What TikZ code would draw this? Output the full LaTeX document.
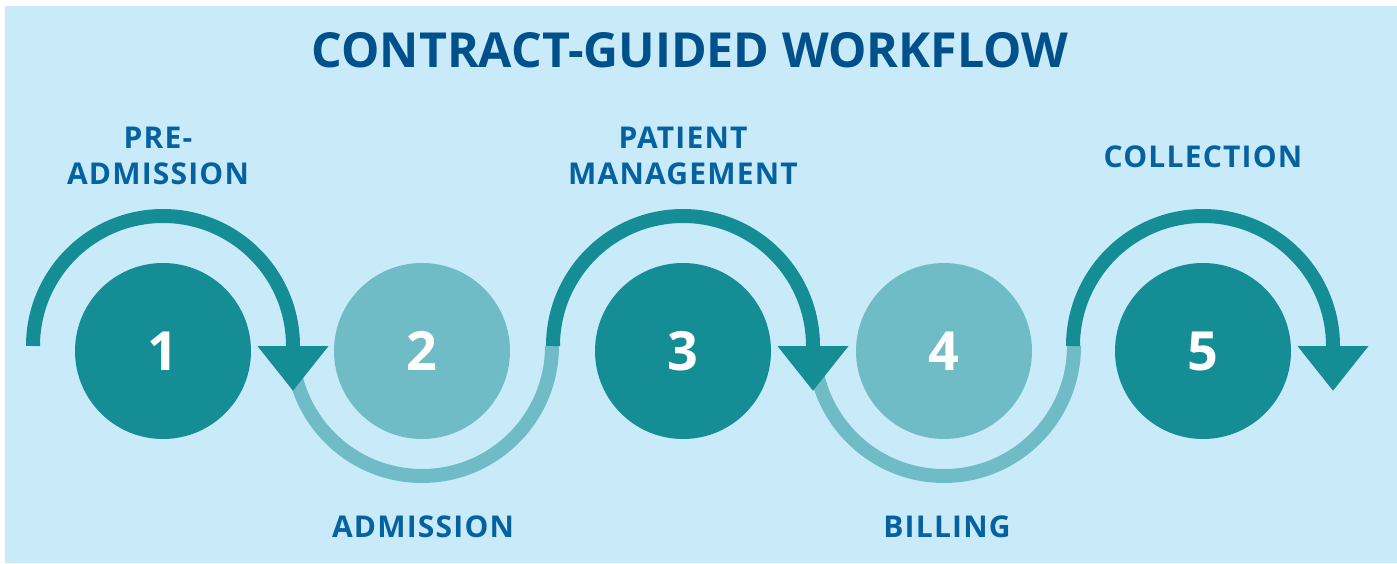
\documentclass[tikz,border=0pt]{standalone}
\usepackage{fontspec}
\setmainfont{Open Sans}
\newfontfamily\labelfont[LetterSpace=4]{Open Sans}
\usetikzlibrary{arrows.meta,calc}
\definecolor{bgblue}{HTML}{C9EAF9}
\definecolor{darkteal}{HTML}{148D94}
\definecolor{lightteal}{HTML}{6FBCC7}
\definecolor{titleblue}{HTML}{00508C}
\definecolor{labelblue}{HTML}{0462A1}

\begin{document}
\begin{tikzpicture}[x=1pt, y=1pt,
  stage/.style={circle, minimum size=176pt, inner sep=0pt, text=white, font=\fontsize{54}{54}\selectfont\bfseries},
  upperarc/.style={darkteal, line width=14pt, -{Triangle[length=45pt, width=68pt]}},
  lowerarc/.style={lightteal, line width=14pt},
  stagelabel/.style={labelblue, font=\labelfont\fontsize{30}{36}\selectfont\bfseries, align=center, inner sep=0pt}]
% Background and the size of the picture
\useasboundingbox (0,0) rectangle (1397,563);
\fill[bgblue] (5,0) rectangle (1397,557);
% Title
\node[titleblue, font=\fontsize{48.3}{49}\selectfont\bfseries, anchor=base] (title) at (690,495) {CONTRACT-GUIDED WORKFLOW};
% The five stages
\node[stage, fill=darkteal] (c1) at (163,212) {1};
\node[stage, fill=lightteal] (c2) at (422,212) {2};
\node[stage, fill=darkteal] (c3) at (683,212) {3};
\node[stage, fill=lightteal] (c4) at (944,212) {4};
\node[stage, fill=darkteal] (c5) at (1203,212) {5};
% Light arcs below stages 2 and 4
\draw[lowerarc] ($(c2)+(-130,5)$) arc[start angle=180, end angle=360, radius=130];
\draw[lowerarc] ($(c4)+(-130,5)$) arc[start angle=180, end angle=360, radius=130];
% Dark arcs over stages 1, 3 and 5, ending in an arrow head
\draw[upperarc] ($(c1)+(-130,5)$) arc[start angle=180, end angle=0, radius=130] -- ++(0,-45);
\draw[upperarc] ($(c3)+(-130,5)$) arc[start angle=180, end angle=0, radius=130] -- ++(0,-45);
\draw[upperarc] ($(c5)+(-130,5)$) arc[start angle=180, end angle=0, radius=130] -- ++(0,-45);
% Stage names
\node[stagelabel, anchor=south] (l1) at (158,378) {PRE-\\ADMISSION};
\node[stagelabel, anchor=south] (l3) at (683,378) {PATIENT\\MANAGEMENT};
\node[stagelabel, anchor=base] (l5) at (1203,395) {COLLECTION};
\node[stagelabel, anchor=base] (l2) at (423,26) {ADMISSION};
\node[stagelabel, anchor=base] (l4) at (947,26) {BILLING};
\end{tikzpicture}
\end{document}
